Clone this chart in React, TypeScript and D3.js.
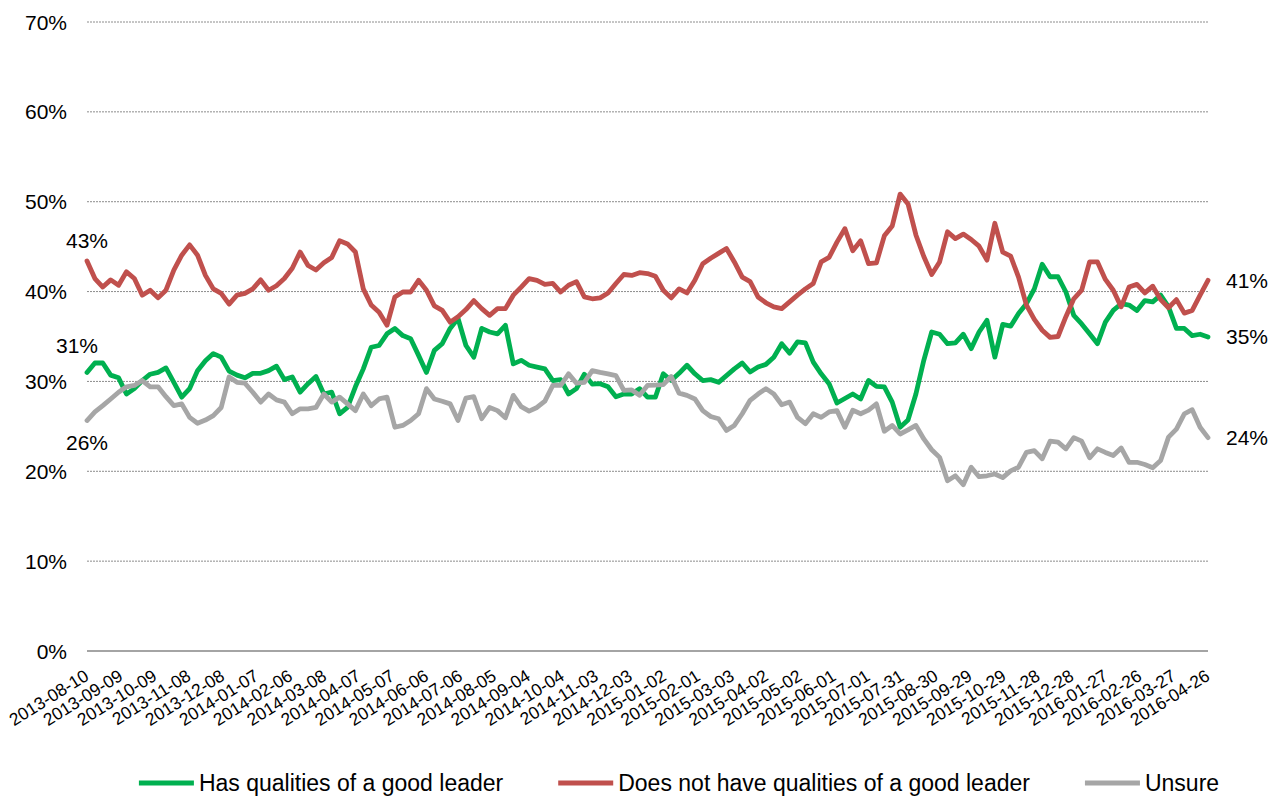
import { useEffect, useRef } from 'react';
import * as d3 from 'd3';

// weekly poll, 143 readings between first and last date
const firstDate = '2013-08-10';
const lastDate = '2016-04-26';

const hasQualities = [
  31.0, 32.05, 32.05, 30.7, 30.4, 28.6, 29.2, 30.1, 30.8, 31.0, 31.5, 29.9, 28.25, 29.2, 31.2, 32.3, 33.1, 32.7, 31.15, 30.7,
  30.4, 30.9, 30.9, 31.2, 31.7, 30.2, 30.5, 28.8, 29.75, 30.55, 28.6, 28.8, 26.4, 27.1, 29.4, 31.4, 33.8, 34.0, 35.3, 35.9,
  35.1, 34.75, 32.9, 31.0, 33.45, 34.2, 35.9, 37.0, 34.0, 32.7, 35.9, 35.5, 35.3, 36.25, 31.95, 32.35, 31.8, 31.6, 31.4, 30.1,
  30.2, 28.6, 29.2, 30.8, 29.7, 29.75, 29.4, 28.3, 28.6, 28.6, 29.2, 28.25, 28.25, 30.85, 30.1, 30.9, 31.8, 30.85, 30.1, 30.2,
  29.9, 30.65, 31.4, 32.05, 31.05, 31.6, 31.9, 32.7, 34.2, 33.15, 34.4, 34.3, 32.15, 30.85, 29.75, 27.6, 28.1, 28.6, 28.05, 30.1,
  29.45, 29.4, 27.7, 24.9, 25.7, 28.6, 32.35, 35.5, 35.25, 34.2, 34.3, 35.25, 33.65, 35.5, 36.8, 32.7, 36.35, 36.15, 37.55, 38.65,
  40.3, 43.05, 41.65, 41.65, 39.95, 37.35, 36.4, 35.3, 34.2, 36.6, 37.9, 38.65, 38.5, 37.9, 39.0, 38.85, 39.6, 38.3, 35.9, 35.9,
  35.1, 35.25, 34.95,
];

const noQualities = [
  43.4, 41.45, 40.5, 41.3, 40.7, 42.2, 41.45, 39.6, 40.15, 39.3, 40.15, 42.4, 44.05, 45.2, 44.05, 41.8, 40.3, 39.8, 38.6, 39.6,
  39.8, 40.3, 41.3, 40.15, 40.65, 41.45, 42.6, 44.4, 42.9, 42.4, 43.2, 43.8, 45.65, 45.3, 44.4, 40.3, 38.5, 37.7, 36.25, 39.4,
  39.95, 39.95, 41.25, 40.15, 38.4, 37.9, 36.6, 37.2, 38.0, 39.0, 38.1, 37.35, 38.1, 38.1, 39.6, 40.5, 41.45, 41.25, 40.8, 40.9,
  39.95, 40.7, 41.1, 39.4, 39.2, 39.3, 39.85, 40.9, 41.9, 41.8, 42.1, 42.0, 41.7, 40.15, 39.3, 40.3, 39.85, 41.25, 43.1, 43.7,
  44.25, 44.8, 43.3, 41.6, 41.1, 39.4, 38.75, 38.3, 38.1, 38.85, 39.6, 40.3, 40.9, 43.3, 43.8, 45.5, 47.0, 44.55, 45.65, 43.1,
  43.2, 46.2, 47.3, 50.85, 49.75, 46.3, 43.9, 41.9, 43.3, 46.65, 45.9, 46.4, 45.8, 45.05, 43.5, 47.6, 44.4, 43.95, 41.6, 38.5,
  36.9, 35.7, 34.9, 35.0, 37.2, 39.2, 40.15, 43.3, 43.3, 41.35, 40.15, 38.3, 40.5, 40.8, 39.85, 40.6, 39.1, 38.2, 39.1, 37.6,
  37.9, 39.6, 41.25,
];

const unsure = [
  25.65, 26.6, 27.3, 28.05, 28.8, 29.4, 29.55, 30.1, 29.4, 29.4, 28.3, 27.3, 27.5, 26.0, 25.35, 25.7, 26.2, 27.1, 30.5, 29.9,
  29.8, 28.8, 27.7, 28.6, 27.95, 27.7, 26.4, 26.95, 26.95, 27.1, 28.6, 27.7, 28.25, 27.5, 26.75, 28.6, 27.3, 28.05, 28.25, 24.9,
  25.1, 25.65, 26.4, 29.2, 28.05, 27.8, 27.5, 25.65, 28.15, 28.3, 25.85, 27.1, 26.75, 25.95, 28.45, 27.2, 26.7, 27.1, 27.8, 29.55,
  29.55, 30.85, 29.8, 29.9, 31.2, 31.0, 30.85, 30.65, 29.0, 29.05, 28.45, 29.55, 29.6, 29.65, 30.55, 28.7, 28.45, 28.05, 26.75, 26.1,
  25.85, 24.55, 25.1, 26.4, 27.9, 28.6, 29.2, 28.6, 27.4, 27.7, 26.0, 25.3, 26.4, 26.0, 26.6, 26.75, 24.9, 26.8, 26.4, 26.8,
  27.5, 24.45, 25.1, 24.15, 24.6, 25.1, 23.6, 22.4, 21.55, 18.95, 19.5, 18.5, 20.45, 19.4, 19.5, 19.7, 19.3, 20.05, 20.45, 22.1,
  22.3, 21.4, 23.35, 23.25, 22.5, 23.75, 23.35, 21.5, 22.5, 22.1, 21.75, 22.6, 21.0, 21.0, 20.75, 20.4, 21.2, 23.8, 24.7, 26.4,
  26.85, 24.9, 23.75,
];

const tickLabels = [
  '2013-08-10', '2013-09-09', '2013-10-09', '2013-11-08', '2013-12-08', '2014-01-07', '2014-02-06', '2014-03-08',
  '2014-04-07', '2014-05-07', '2014-06-06', '2014-07-06', '2014-08-05', '2014-09-04', '2014-10-04', '2014-11-03',
  '2014-12-03', '2015-01-02', '2015-02-01', '2015-03-03', '2015-04-02', '2015-05-02', '2015-06-01', '2015-07-01',
  '2015-07-31', '2015-08-30', '2015-09-29', '2015-10-29', '2015-11-28', '2015-12-28', '2016-01-27', '2016-02-26',
  '2016-03-27', '2016-04-26',
];

const yTicks = [0, 10, 20, 30, 40, 50, 60, 70];

const seriesNames = ['Has qualities of a good leader', 'Does not have qualities of a good leader', 'Unsure'];
const seriesColors = ['#00B050', '#C0504D', '#A6A6A6'];
const seriesValues = [hasQualities, noQualities, unsure];

const Chart = () => {
  const ref = useRef<SVGSVGElement>(null);

  useEffect(() => {
    document.body.style.margin = '0';
    const svg = d3.select(ref.current);
    svg.selectAll('*').remove();

    const width = 1272;
    const height = 799;
    const font = 'Liberation Sans, Arial, sans-serif';
    svg.attr('width', width).attr('height', height).style('background', '#fff');

    const parse = d3.utcParse('%Y-%m-%d');
    const t0 = parse(firstDate)!;
    const t1 = parse(lastDate)!;
    const n = hasQualities.length;
    const dates = d3.range(n).map((i) => new Date(+t0 + (i * (+t1 - +t0)) / (n - 1)));

    const x = d3.scaleUtc().domain([t0, t1]).range([87, 1208]);
    const y = d3.scaleLinear().domain([0, 70]).range([651, 22]);

    // gridlines
    svg.append('g')
      .selectAll('line')
      .data(yTicks.filter((d) => d > 0))
      .enter()
      .append('line')
      .attr('x1', 87)
      .attr('x2', 1208)
      .attr('y1', (d) => y(d))
      .attr('y2', (d) => y(d))
      .attr('stroke', '#8c8c8c')
      .attr('stroke-width', 1)
      .attr('stroke-dasharray', '2,1');

    svg.append('line')
      .attr('x1', 87)
      .attr('x2', 1208)
      .attr('y1', y(0))
      .attr('y2', y(0))
      .attr('stroke', '#868686')
      .attr('stroke-width', 1.5);

    // y labels
    svg.append('g')
      .selectAll('text')
      .data(yTicks)
      .enter()
      .append('text')
      .attr('x', 67)
      .attr('y', (d) => y(d) + 7.5)
      .attr('text-anchor', 'end')
      .style('font-family', font)
      .style('font-size', '21px')
      .text((d) => `${d}%`);

    // x labels
    svg.append('g')
      .selectAll('text')
      .data(tickLabels)
      .enter()
      .append('text')
      .attr('transform', (d) => `translate(${x(parse(d)!) + 3},679) rotate(-32)`)
      .attr('text-anchor', 'end')
      .style('font-family', font)
      .style('font-size', '17.5px')
      .text((d) => d);

    const line = d3
      .line<number>()
      .x((_, i) => x(dates[i]))
      .y((d) => y(d));

    svg.append('g')
      .selectAll('path')
      .data(seriesValues)
      .enter()
      .append('path')
      .attr('d', (d) => line(d))
      .attr('fill', 'none')
      .attr('stroke', (_, i) => seriesColors[i])
      .attr('stroke-width', 4.8)
      .attr('stroke-linejoin', 'round')
      .attr('stroke-linecap', 'round');

    // end labels
    const endLabels = svg.append('g').style('font-family', font).style('font-size', '21px');
    const fmt = (v: number) => `${Math.round(v)}%`;
    endLabels.append('text').attr('x', x(dates[0])).attr('y', 248).attr('text-anchor', 'middle').text(fmt(noQualities[0]));
    endLabels.append('text').attr('x', x(dates[0]) - 10).attr('y', 353).attr('text-anchor', 'middle').text(fmt(hasQualities[0]));
    endLabels.append('text').attr('x', x(dates[0])).attr('y', 450).attr('text-anchor', 'middle').text(fmt(unsure[0]));
    endLabels.append('text').attr('x', 1226).attr('y', y(noQualities[n - 1]) + 7.5).text(fmt(noQualities[n - 1]));
    endLabels.append('text').attr('x', 1226).attr('y', y(hasQualities[n - 1]) + 7.5).text(fmt(hasQualities[n - 1]));
    endLabels.append('text').attr('x', 1226).attr('y', y(unsure[n - 1]) + 7.5).text(fmt(unsure[n - 1]));

    // legend, centred under the chart
    const legend = svg.append('g').style('font-family', font).style('font-size', '23px');
    const items = seriesNames.map((name, i) => {
      const g = legend.append('g');
      g.append('line')
        .attr('x1', 0)
        .attr('x2', 55)
        .attr('y1', 783)
        .attr('y2', 783)
        .attr('stroke', seriesColors[i])
        .attr('stroke-width', 4.8);
      const t = g.append('text').attr('x', 60).attr('y', 791).text(name);
      return { g, w: 60 + (t.node() as SVGTextElement).getComputedTextLength() };
    });
    const gap = 55;
    const total = d3.sum(items, (d) => d.w) + gap * (items.length - 1);
    let lx = 679 - total / 2;
    items.forEach((it) => {
      it.g.attr('transform', `translate(${lx},0)`);
      lx += it.w + gap;
    });
  }, []);

  return <svg ref={ref} style={{ display: 'block' }}></svg>;
};

export default function App() {
  return <Chart />;
}
